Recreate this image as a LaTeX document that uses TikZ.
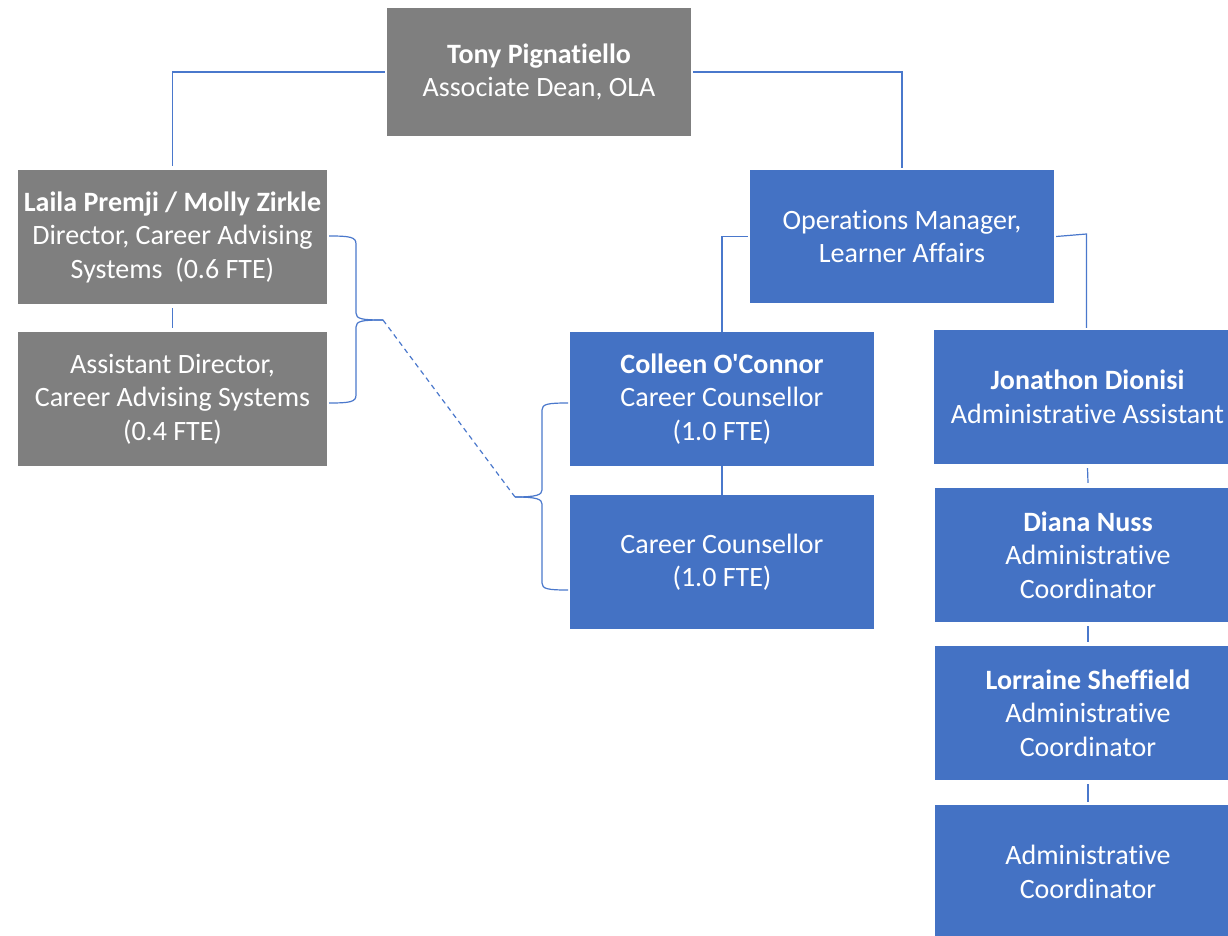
\documentclass[tikz,border=0pt]{standalone}
\usepackage{fontspec}
\setmainfont{Carlito}[Ligatures={TeXOff,NoCommon}]
\definecolor{boxgray}{HTML}{7F7F7F}
\definecolor{boxblue}{HTML}{4472C4}
\definecolor{linkblue}{HTML}{4A78CC}
\tikzset{
  box/.style={draw=none, inner sep=0pt, minimum width=304pt, minimum height=134pt,
    text=white, align=center, font=\fontsize{28}{33.5}\selectfont},
  graybox/.style={box, fill=boxgray},
  bluebox/.style={box, fill=boxblue},
  conn/.style={draw=linkblue, line width=1.2pt},
}
\begin{document}
\begin{tikzpicture}[x=1pt,y=-1pt]
\clip (0,0) rectangle (1228,936);
\fill[white] (0,0) rectangle (1228,936);
% nodes
\node[graybox, minimum height=128pt] (tony) at (539,72) {\textbf{Tony Pignatiello}\\Associate Dean, OLA};
\node[graybox, minimum width=309pt] (laila) at (172.5,237) {\textbf{Laila Premji / Molly Zirkle}\\Director, Career Advising\\Systems\ \ (0.6 FTE)};
\node[graybox, minimum width=309pt] (asst) at (172.5,399) {Assistant Director,\\Career Advising Systems\\(0.4 FTE)};
\node[bluebox, minimum height=133pt] (ops) at (902,236.5) {Operations Manager,\\Learner Affairs};
\node[bluebox] (colleen) at (722,399) {\textbf{Colleen O'Connor}\\Career Counsellor\\(1.0 FTE)};
\node[bluebox] (cc) at (722,562) {Career Counsellor\\(1.0 FTE)};
\node[bluebox, minimum width=307pt] (jon) at (1087.5,397) {\textbf{Jonathon Dionisi}\\Administrative Assistant};
\node[bluebox, minimum width=306pt] (diana) at (1088,555) {\textbf{Diana Nuss}\\Administrative\\Coordinator};
\node[bluebox, minimum width=306pt] (lorr) at (1088,713) {\textbf{Lorraine Sheffield}\\Administrative\\Coordinator};
\node[bluebox, minimum width=306pt] (admin) at (1088,872) {Administrative\\Coordinator};
% connectors
\draw[conn] ([xshift=-2pt]tony.west) -| ([yshift=4pt]laila.north);
\draw[conn] ([xshift=2pt]tony.east) -| ([yshift=2pt]ops.north);
\draw[conn] ([yshift=-4pt]laila.south) -- ([yshift=4pt]asst.north);
\draw[conn] ([xshift=-2pt]ops.west) -| (colleen.north);
\draw[conn] ([xshift=2pt,yshift=0pt]ops.east) -- ([xshift=-1pt]jon.north |- 0,234) -- ([yshift=2pt,xshift=-1pt]jon.north);
\draw[conn] (colleen.south) -- (cc.north);
\draw[conn] ([yshift=-4pt]jon.south) -- ([yshift=5pt]diana.north);
\draw[conn] ([yshift=-4pt]diana.south) -- ([yshift=4pt]lorr.north);
\draw[conn] ([yshift=-4pt]lorr.south) -- ([yshift=3pt]admin.north);
% braces
\coordinate (lbtip) at (383,320);
\coordinate (rbtip) at (515,497);
\draw[conn] (329,236) .. controls (350,236) and (356,237) .. (356,244) -- (356,313)
  .. controls (356,319) and (362,320) .. (lbtip);
\draw[conn] (329,403) .. controls (350,403) and (356,402) .. (356,395) -- (356,327)
  .. controls (356,321) and (362,320) .. (lbtip);
\draw[conn] (568,403) .. controls (548,403) and (542,404) .. (542,410) -- (542,490)
  .. controls (542,495) and (536,497) .. (rbtip);
\draw[conn] (568,590) .. controls (548,590) and (542,589) .. (542,583) -- (542,504)
  .. controls (542,499) and (536,497) .. (rbtip);
\draw[conn, dash pattern=on 5pt off 4pt] (lbtip) -- (rbtip);
\end{tikzpicture}
\end{document}
